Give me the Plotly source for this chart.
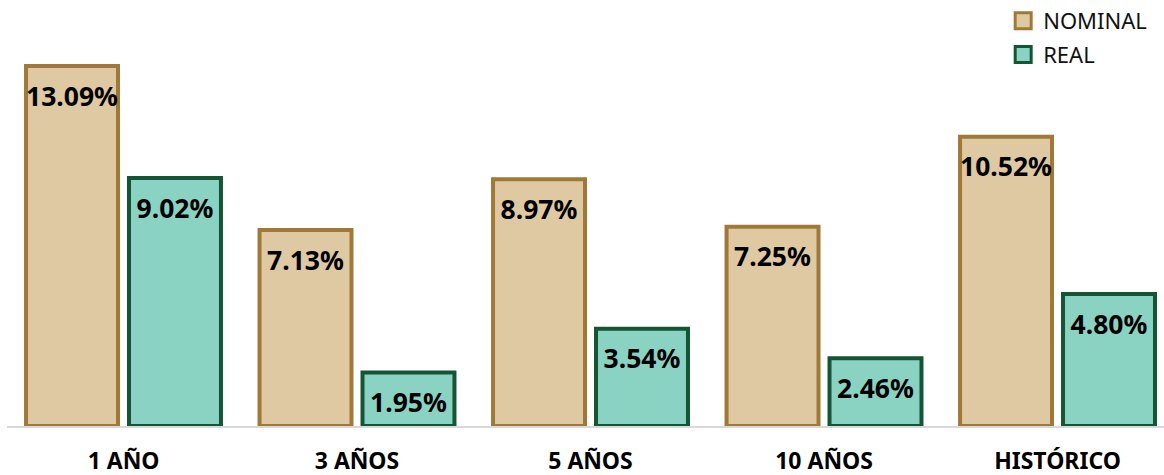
import plotly.graph_objects as go

categories = ["1 AÑO", "3 AÑOS", "5 AÑOS", "10 AÑOS", "HISTÓRICO"]
nominal = [13.09, 7.13, 8.97, 7.25, 10.52]
real = [9.02, 1.95, 3.54, 2.46, 4.80]
series_names = ["NOMINAL", "REAL"]

fills = ["#DFC9A3", "#8AD3C3"]
borders = ["#A07838", "#145535"]

GAP = 0.118

fig = go.Figure()
for name, vals, fc, bc in zip(series_names, [nominal, real], fills, borders):
    fig.add_trace(go.Bar(
        x=categories, y=vals, name=name, offsetgroup=name,
        marker=dict(color=fc, line=dict(color=bc, width=4)),
        showlegend=False, hoverinfo="skip",
    ))
for name, vals in zip(series_names, [nominal, real]):
    fig.add_trace(go.Scatter(
        x=categories, y=vals, offsetgroup=name, mode="markers+text",
        marker=dict(size=30, color="rgba(0,0,0,0)"),
        text=[f"{v:.2f}%" for v in vals], textposition="bottom center",
        textfont=dict(family="Noto Sans", size=26.5, color="black", weight="bold"),
        showlegend=False, hoverinfo="skip",
    ))
for name, fc, bc in zip(series_names, fills, borders):
    fig.add_trace(go.Scatter(
        x=[None], y=[None], mode="markers", name=name, legendgroup=name,
        marker=dict(symbol="square", size=16, color=fc, line=dict(color=bc, width=3)),
        showlegend=True,
    ))

fig.update_layout(
    width=1164, height=475,
    margin=dict(l=7, r=0, t=10, b=49, autoexpand=False),
    paper_bgcolor="white", plot_bgcolor="white",
    barmode="group", bargap=GAP, bargroupgap=0.107,
    scattermode="group", scattergap=GAP,
    legend=dict(x=0.861, y=1.024, xanchor="left", yanchor="top",
                font=dict(family="Noto Sans", size=22, color="#111111"),
                bgcolor="rgba(0,0,0,0)", itemwidth=30,
                traceorder="grouped", tracegroupgap=2),
    xaxis=dict(range=[-0.4989, 4.456], showline=True, linecolor="#D9D9D9", linewidth=2,
               layer="below traces", showgrid=False, ticks="", ticklabelstandoff=13,
               tickfont=dict(family="Noto Sans", size=23, color="black", weight="bold")),
    yaxis=dict(range=[0, 15.13], visible=False, showgrid=False, zeroline=False),
)

fig.write_html("out.html", config={"displayModeBar": False},
               post_script="document.body.style.margin='0';")
